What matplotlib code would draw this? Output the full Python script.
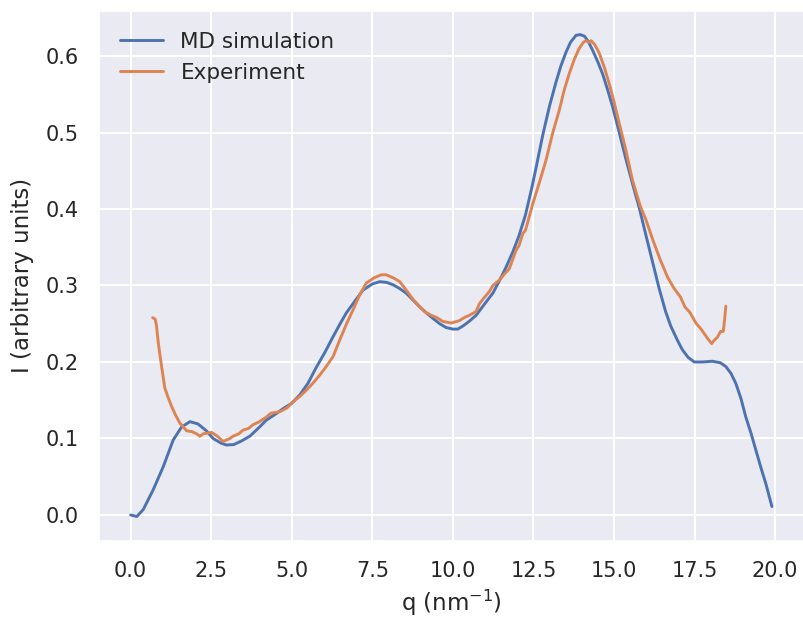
import numpy as np
import matplotlib
matplotlib.use("Agg")
import matplotlib.pyplot as plt
import seaborn as sns

md_q = [0.0, 0.19, 0.39, 0.7, 1.01, 1.32, 1.58, 1.84, 2.09, 2.35, 2.56, 2.8, 2.97, 3.2, 3.45,
        3.7, 4.0, 4.21, 4.5, 4.73, 5.0, 5.25, 5.5, 5.76, 6.02, 6.28, 6.5, 6.69, 7.0, 7.21,
        7.5, 7.73, 7.95, 8.14, 8.35, 8.55, 8.76, 8.97, 9.18, 9.38, 9.59, 9.79, 10.0, 10.15,
        10.31, 10.5, 10.72, 10.95, 11.24, 11.44, 11.65, 11.86, 12.05, 12.25, 12.45, 12.6,
        12.79, 13.0, 13.2, 13.35, 13.51, 13.65, 13.82, 13.95, 14.08, 14.2, 14.33, 14.5,
        14.65, 14.8, 14.96, 15.15, 15.37, 15.58, 15.78, 16.0, 16.2, 16.4, 16.6, 16.76,
        16.96, 17.12, 17.3, 17.49, 17.75, 18.05, 18.3, 18.47, 18.63, 18.78, 18.94, 19.09,
        19.25, 19.4, 19.55, 19.71, 19.9]
md_I = [0.0, -0.002, 0.007, 0.033, 0.063, 0.098, 0.115, 0.122, 0.119, 0.11, 0.1, 0.094, 0.0915, 0.092, 0.097,
        0.103, 0.115, 0.124, 0.132, 0.139, 0.146, 0.157, 0.172, 0.193, 0.212, 0.233, 0.25, 0.264, 0.282, 0.294,
        0.302, 0.305, 0.304, 0.301, 0.296, 0.29, 0.281, 0.272, 0.264, 0.257, 0.25, 0.245, 0.243, 0.243,
        0.247, 0.253, 0.261, 0.274, 0.29, 0.306, 0.324, 0.344, 0.365, 0.392, 0.428, 0.458,
        0.497, 0.535, 0.566, 0.587, 0.605, 0.618, 0.627, 0.628, 0.626, 0.619, 0.608, 0.592,
        0.576, 0.556, 0.533, 0.502, 0.465, 0.432, 0.402, 0.364, 0.33, 0.296, 0.266, 0.247,
        0.229, 0.216, 0.206, 0.2, 0.2, 0.201, 0.199, 0.194, 0.185, 0.172, 0.152, 0.128,
        0.107, 0.085, 0.063, 0.041, 0.011]

exp_q = [0.68, 0.76, 0.8, 0.86, 0.96, 1.06, 1.15, 1.27, 1.4, 1.53, 1.74, 1.9, 2.05, 2.15, 2.25,
         2.36, 2.51, 2.62, 2.72, 2.87, 2.97, 3.08, 3.18, 3.35, 3.49, 3.65, 3.8, 4.0, 4.21, 4.35,
         4.63, 4.85, 5.04, 5.25, 5.45, 5.65, 5.87, 6.05, 6.28, 6.49, 6.7, 6.9, 7.1, 7.31, 7.55,
         7.78, 7.93, 8.15, 8.35, 8.55, 8.76, 8.97, 9.15, 9.33, 9.5, 9.69, 9.95, 10.2, 10.35,
         10.51, 10.72, 10.82, 10.95, 11.13, 11.24, 11.44, 11.6, 11.75, 11.96, 12.05, 12.17,
         12.25, 12.48, 12.7, 12.89, 13.1, 13.3, 13.45, 13.61, 13.77, 13.92, 14.05, 14.13,
         14.22, 14.29, 14.4, 14.54, 14.7, 14.85, 15.0, 15.16, 15.35, 15.57, 15.82, 15.99,
         16.2, 16.44, 16.66, 16.85, 17.06, 17.2, 17.35, 17.54, 17.7, 17.9, 18.03, 18.1, 18.2,
         18.31, 18.39, 18.43, 18.47]
exp_I = [0.258, 0.256, 0.248, 0.224, 0.194, 0.166, 0.155, 0.142, 0.13, 0.12, 0.11, 0.109, 0.106, 0.103, 0.106,
         0.107, 0.108, 0.105, 0.102, 0.096, 0.098, 0.1, 0.103, 0.106, 0.111, 0.113, 0.118, 0.122, 0.128, 0.133,
         0.135, 0.14, 0.148, 0.155, 0.163, 0.172, 0.183, 0.193, 0.207, 0.229, 0.25, 0.268, 0.287, 0.303, 0.31,
         0.314, 0.314, 0.31, 0.305, 0.294, 0.282, 0.272, 0.265, 0.261, 0.258, 0.253, 0.251, 0.254, 0.258,
         0.261, 0.266, 0.276, 0.283, 0.292, 0.3, 0.307, 0.315, 0.322, 0.346, 0.352, 0.368,
         0.372, 0.407, 0.437, 0.464, 0.5, 0.529, 0.555, 0.577, 0.596, 0.61, 0.618, 0.62,
         0.618, 0.62, 0.615, 0.604, 0.585, 0.564, 0.54, 0.512, 0.48, 0.438, 0.403, 0.386,
         0.36, 0.333, 0.311, 0.297, 0.285, 0.272, 0.265, 0.251, 0.243, 0.231, 0.224, 0.228, 0.232,
         0.24, 0.24, 0.255, 0.273]

sns.set_theme(style="darkgrid")
plt.rcParams['font.family'] = ['DejaVu Sans']
plt.rcParams['grid.linewidth'] = 1.5

fig = plt.figure(figsize=(8.04, 6.17), dpi=100)
ax = fig.add_subplot(111)
fig.subplots_adjust(left=98.6/804, right=1.0, top=1-10.5/617, bottom=1-540.6/617)

ax.plot(md_q, md_I, lw=2.1, label="MD simulation")
ax.plot(exp_q, exp_I, lw=2.1, label="Experiment")

ax.set_xlabel(r"q (nm$^{-1}$)", fontsize=16.5, labelpad=5)
ax.set_ylabel("I (arbitrary units)", fontsize=16.5, labelpad=8)
ax.tick_params(labelsize=15, pad=plt.rcParams['xtick.major.pad'] + 5)
ax.legend(loc="upper left", fontsize=15.5, frameon=False, borderaxespad=0.6)

fig.savefig("out.png", dpi=100)
